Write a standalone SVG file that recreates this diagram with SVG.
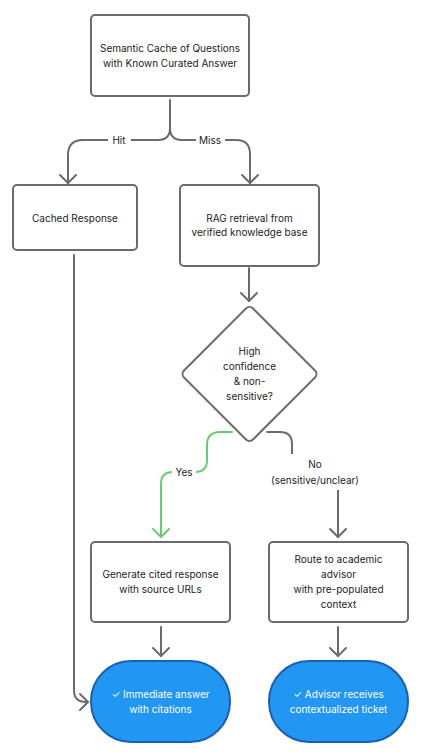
<svg xmlns="http://www.w3.org/2000/svg" width="426" height="752" viewBox="0 0 426 752">
<style>
.box{fill:#fff;stroke:#6b6b6b;stroke-width:2}
.term{fill:#2196F3;stroke:#1a5fb4;stroke-width:2}
.t{font-family:Inter,"Noto Sans",sans-serif;font-size:10px;fill:#222;text-anchor:middle;dominant-baseline:central}
.tw{font-family:Inter,"Noto Sans",sans-serif;font-size:10px;fill:#fff;text-anchor:middle;dominant-baseline:central}
.e{fill:none;stroke:#6b6b6b;stroke-width:2;stroke-linecap:round;stroke-linejoin:round}
.g{fill:none;stroke:#66cc70;stroke-width:2;stroke-linecap:round;stroke-linejoin:round}
.lbg{fill:#fff}
</style>
<defs>
<marker id="ah" markerUnits="userSpaceOnUse" markerWidth="20" markerHeight="20" viewBox="-10 -10 20 20" refX="0" refY="0" orient="auto">
<path d="M-8,-8 L0,0 L-8,8" fill="none" stroke="#6b6b6b" stroke-width="2" stroke-linecap="round" stroke-linejoin="round"/>
</marker>
<marker id="ahg" markerUnits="userSpaceOnUse" markerWidth="20" markerHeight="20" viewBox="-10 -10 20 20" refX="0" refY="0" orient="auto">
<path d="M-8,-8 L0,0 L-8,8" fill="none" stroke="#66cc70" stroke-width="2" stroke-linecap="round" stroke-linejoin="round"/>
</marker>
</defs>
<rect width="426" height="752" fill="#fff"/>
<g id="connectors">
<path class="e" d="M170,100 V128 Q170,140 158,140 H83 Q68,140 68,155 V183" marker-end="url(#ah)"/>
<path class="e" d="M170,128 Q170,140 182,140 H236 Q250,140 250,154 V183" marker-end="url(#ah)"/>
<path class="e" d="M249,268 V301" marker-end="url(#ah)"/>
<path class="g" d="M232,432 H220 Q207,432 207,445 V460 Q207,472 195,472 H173 Q161,472 161,484 V537" marker-end="url(#ahg)"/>
<path class="e" d="M267,432 H280 Q292,432 292,444 V462 Q292,474 304,474 H326 Q338,474 338,486 V537" marker-end="url(#ah)"/>
<path class="e" d="M161,627 V656" marker-end="url(#ah)"/>
<path class="e" d="M338,627 V656" marker-end="url(#ah)"/>
<path class="e" d="M74,255 V690 Q74,702 86,702 H88" marker-end="url(#ah)"/>
<rect class="lbg" x="108" y="133" width="23" height="14"/>
<text class="t" x="119" y="140">Hit</text>
<rect class="lbg" x="196" y="133" width="29" height="14"/>
<text class="t" x="210" y="140">Miss</text>
<rect class="lbg" x="172" y="465" width="24" height="14"/>
<text class="t" x="184" y="472">Yes</text>
<rect class="lbg" x="266" y="454" width="98" height="36"/>
<text class="t" x="315" y="464">No</text>
<text class="t" x="315" y="480">(sensitive/unclear)</text>
</g>
<g id="semantic-cache">
<rect class="box" x="91" y="15" width="158" height="81" rx="4"/>
<text class="t" x="170" y="48">Semantic Cache of Questions</text>
<text class="t" x="170" y="63">with Known Curated Answer</text>
</g>
<g id="cached-response">
<rect class="box" x="13" y="185" width="124" height="65" rx="4"/>
<text class="t" x="75" y="218">Cached Response</text>
</g>
<g id="rag">
<rect class="box" x="180" y="185" width="139" height="81" rx="4"/>
<text class="t" x="249.5" y="218">RAG retrieval from</text>
<text class="t" x="249.5" y="232">verified knowledge base</text>
</g>
<g id="decision">
<rect class="box" x="-48.8" y="-48.8" width="97.6" height="97.6" rx="5" transform="translate(249.5,374) rotate(45)"/>
<text class="t" x="249.5" y="351">High</text>
<text class="t" x="249.5" y="366">confidence</text>
<text class="t" x="249.5" y="381">&amp; non-</text>
<text class="t" x="249.5" y="396">sensitive?</text>
</g>
<g id="generate">
<rect class="box" x="91" y="542" width="139" height="80" rx="4"/>
<text class="t" x="160.5" y="574">Generate cited response</text>
<text class="t" x="160.5" y="589">with source URLs</text>
</g>
<g id="route">
<rect class="box" x="269" y="542" width="139" height="80" rx="4"/>
<text class="t" x="338.5" y="559">Route to academic</text>
<text class="t" x="338.5" y="574">advisor</text>
<text class="t" x="338.5" y="589">with pre-populated</text>
<text class="t" x="338.5" y="604">context</text>
</g>
<g id="immediate-answer">
<rect class="term" x="91" y="661" width="139" height="81" rx="40"/>
<text class="tw" x="160.5" y="694">✓ Immediate answer</text>
<text class="tw" x="160.5" y="709">with citations</text>
</g>
<g id="advisor-ticket">
<rect class="term" x="269" y="661" width="139" height="81" rx="40"/>
<text class="tw" x="338.5" y="694">✓ Advisor receives</text>
<text class="tw" x="338.5" y="709">contextualized ticket</text>
</g>
</svg>
